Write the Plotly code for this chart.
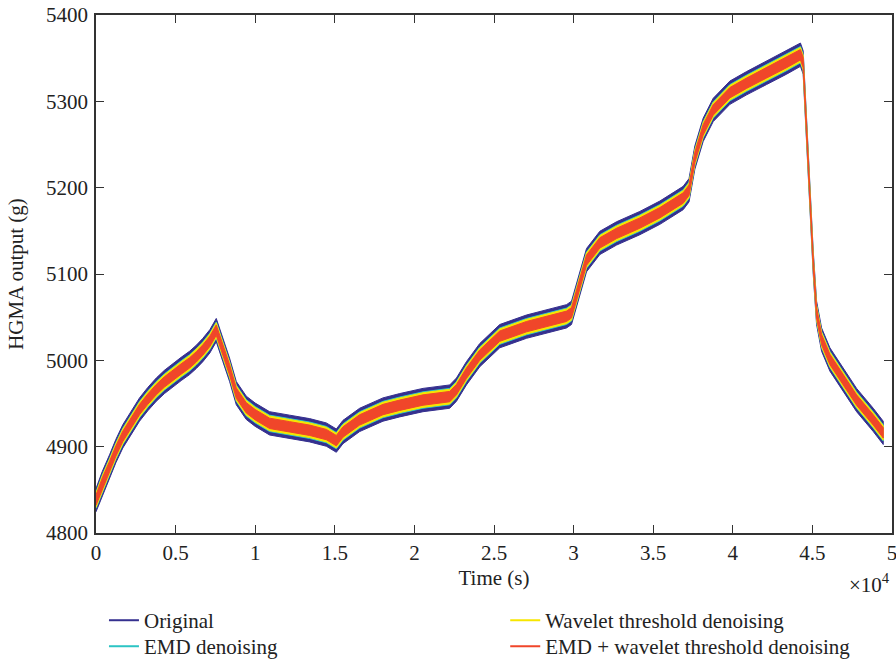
import plotly.graph_objects as go

# ---- data (time in s, HGMA output in g) ----
time_s = [0, 400, 850, 1250, 1685, 2200, 2734, 3250, 3784, 4300, 4827, 5350,
          5877, 6300, 6713, 7150, 7555, 7970, 8391, 8812,
          9440, 10000, 10905, 12162, 13420, 14469, 15097, 15515, 16562, 18026,
          19076, 20540, 22219, 22640, 23268, 24104, 25361, 27040, 28297, 29554,
          29868, 30390, 30810, 31647, 32697, 34161, 35418, 36882, 37250, 37617,
          38139, 38768, 39817, 40866, 42124, 43381, 44250, 44420, 44638, 44847,
          45053, 45263, 45578, 46100, 46938, 47775, 48823, 49450]
trend_g = [4838, 4858, 4877, 4895, 4912, 4928, 4943, 4955, 4966, 4975, 4983, 4990,
           4997, 5004, 5012, 5022, 5035, 5012, 4989, 4962,
           4945, 4937, 4927, 4923, 4919, 4914, 4907, 4917, 4931, 4943,
           4948, 4954, 4958, 4966, 4985, 5006, 5028, 5039, 5045, 5051,
           5055, 5089, 5116, 5136, 5147, 5159, 5171, 5188, 5197, 5235,
           5267, 5290, 5310, 5321, 5333, 5345, 5354, 5345, 5267, 5190,
           5113, 5055, 5024, 5001, 4977, 4954, 4931, 4916]

series_names = ["Original", "EMD denoising", "Wavelet threshold denoising",
                "EMD + wavelet threshold denoising"]
# residual noise amplitude (± g) of each series
noise_amp_g = [13.5, 9.5, 8.5, 6.0]

x_tick_vals = [0, 5000, 10000, 15000, 20000, 25000, 30000, 35000, 40000, 45000, 50000]
x_tick_text = ["0", "0.5", "1", "1.5", "2", "2.5", "3", "3.5", "4", "4.5", "5"]
y_tick_vals = [4800, 4900, 5000, 5100, 5200, 5300, 5400]

# ---- styles ----
colors = ["#35308f", "#2cc4c4", "#f7e600", "#f0462a"]
legend_ids = ["legend", "legend2", "legend3", "legend4"]
# legend slot (x, y in paper units): two columns, two rows
legend_pos = [(0.010, -0.1295), (0.010, -0.1797), (0.5141, -0.1295), (0.5141, -0.1797)]
FONT = "Liberation Serif, Times New Roman, serif"

fig = go.Figure()

for name, amp, col in zip(series_names, noise_amp_g, colors):
    upper = [v + amp for v in trend_g]
    lower = [v - amp for v in trend_g]
    fig.add_trace(go.Scatter(
        x=time_s + time_s[::-1],
        y=upper + lower[::-1],
        fill="toself", fillcolor=col, mode="lines",
        line=dict(color=col, width=1),
        showlegend=False, hoverinfo="skip"))

for name, col, lg in zip(series_names, colors, legend_ids):
    fig.add_trace(go.Scatter(
        x=[None], y=[None], mode="lines", name=name, legend=lg,
        line=dict(color=col, width=2)))

axis_common = dict(showgrid=False, zeroline=False, showline=True, automargin=False,
                   linecolor="#333333", linewidth=1.5, mirror="ticks",
                   ticks="inside", ticklen=8, tickwidth=1.2, tickcolor="#333333",
                   ticklabeloverflow="allow",
                   tickfont=dict(family=FONT, size=21, color="#222222"))

fig.update_xaxes(range=[0, 50000], tickvals=x_tick_vals, ticktext=x_tick_text,
                 title=dict(text="Time (s)", standoff=6,
                            font=dict(family=FONT, size=21, color="#222222")),
                 **axis_common)
fig.update_yaxes(range=[4800, 5400], tickvals=y_tick_vals,
                 ticklabelstandoff=2,
                 title=dict(text="HGMA output (g)", standoff=17,
                            font=dict(family=FONT, size=21, color="#222222")),
                 **axis_common)

fig.add_annotation(text="×10<sup>4</sup>", xref="paper", yref="paper",
                   x=1.0, y=-0.097, xanchor="right", yanchor="middle",
                   showarrow=False,
                   font=dict(family=FONT, size=21, color="#222222"))

legends = {}
for lg, (lx, ly) in zip(legend_ids, legend_pos):
    legends[lg] = dict(orientation="h", x=lx, y=ly, xanchor="left", yanchor="top",
                       font=dict(family=FONT, size=21, color="#222222"),
                       bgcolor="rgba(0,0,0,0)")

fig.update_layout(
    width=896, height=663,
    margin=dict(l=96, r=4, t=15, b=130, autoexpand=False),
    plot_bgcolor="white", paper_bgcolor="white",
    font=dict(family=FONT, size=21, color="#222222"),
    **legends,
)

fig.write_html("out.html")
